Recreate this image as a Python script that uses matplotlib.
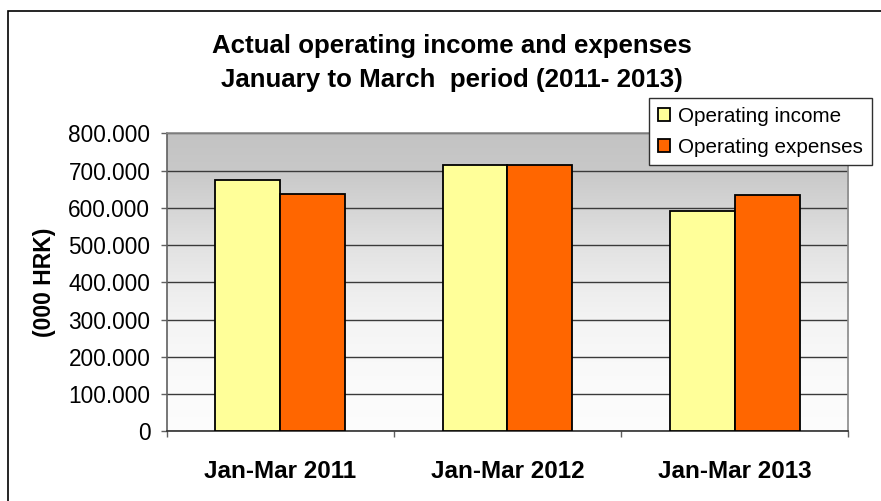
import numpy as np
import matplotlib
matplotlib.use("Agg")
import matplotlib.pyplot as plt
from matplotlib.patches import Rectangle
from matplotlib.ticker import FuncFormatter, FixedLocator

plt.rcParams['font.family'] = ['Liberation Sans', 'DejaVu Sans']

categories = ["Jan-Mar 2011", "Jan-Mar 2012", "Jan-Mar 2013"]
operating_income = [675000, 715000, 592000]
operating_expenses = [636000, 715000, 635000]
series_names = ["Operating income", "Operating expenses"]
title_lines = ["Actual operating income and expenses",
               "January to March  period (2011- 2013)"]
y_label = "(000 HRK)"
y_ticks = [0, 100000, 200000, 300000, 400000, 500000, 600000, 700000, 800000]

W, H = 881, 501
fig = plt.figure(figsize=(W / 100, H / 100), dpi=100)
fig.patch.set_facecolor("white")

# chart-area border (extends beyond right and bottom edge)
fig.patches.append(Rectangle((7.5 / W, -0.2), 1.2, 1.2 - 11 / H,
                             transform=fig.transFigure, fill=False,
                             edgecolor="black", linewidth=1.2))

ax = fig.add_axes([166.7 / W, 1 - 431.3 / H, (848.3 - 166.7) / W, (431.3 - 133.3) / H])

# gradient background
stops_f = [0.0, 0.125, 0.25, 0.375, 0.5, 0.625, 0.75, 0.875, 1.0]
stops_g = [0.99, 0.985, 0.975, 0.955, 0.925, 0.885, 0.835, 0.785, 0.765]
yy = np.linspace(0, 1, 300)
g = np.interp(yy, stops_f, stops_g)
img = np.stack([g, g, g], axis=-1)[:, None, :].repeat(2, axis=1)
ax.imshow(img, extent=[-0.5, 2.5, 0, 800000], origin="lower", aspect="auto",
          zorder=0, interpolation="bilinear")

x = np.arange(len(categories))
bw = 0.286
ax.bar(x - bw / 2, operating_income, bw, color="#FFFF99", edgecolor="black",
       linewidth=1.3, label=series_names[0], zorder=3)
ax.bar(x + bw / 2, operating_expenses, bw, color="#FF6600", edgecolor="black",
       linewidth=1.3, label=series_names[1], zorder=3)

ax.set_xlim(-0.5, 2.5)
ax.set_ylim(0, 800000)

ax.yaxis.set_major_locator(FixedLocator(y_ticks))
ax.yaxis.set_major_formatter(FuncFormatter(lambda v, p: f"{int(v):,}".replace(",", ".")))
ax.yaxis.grid(True, color="#3a3a3a", linewidth=1.0, zorder=1)
ax.set_axisbelow(True)

ax.xaxis.set_major_locator(FixedLocator([-0.5, 0.5, 1.5, 2.5]))
ax.xaxis.set_major_formatter(FuncFormatter(lambda v, p: ""))
ax.xaxis.set_minor_locator(FixedLocator(list(x)))
ax.set_xticklabels(categories, minor=True)
ax.tick_params(axis="x", which="minor", length=0, pad=21, labelsize=17.5)
for lab in ax.get_xticklabels(minor=True):
    lab.set_fontweight("bold")
ax.tick_params(axis="x", which="major", length=4.5, width=1, color="#606060", direction="out")
ax.tick_params(axis="y", which="major", length=4.3, width=1, color="#606060",
               pad=7.5, labelsize=16.3)

for s in ["top", "right"]:
    ax.spines[s].set_color("#8a8a8a")
    ax.spines[s].set_linewidth(1.2)
ax.spines["left"].set_color("#606060")
ax.spines["left"].set_linewidth(1.2)
ax.spines["bottom"].set_color("#303030")
ax.spines["bottom"].set_linewidth(1.2)

ax.set_ylabel(y_label, fontsize=16.5, fontweight="bold")
ax.yaxis.set_label_coords((56 - 166.7) / (848.3 - 166.7), 0.5)

fig.text(451.5 / W, 1 - 52.7 / H, title_lines[0], ha="center", va="baseline",
         fontsize=18.6, fontweight="bold")
fig.text(451.5 / W, 1 - 87.3 / H, title_lines[1], ha="center", va="baseline",
         fontsize=18.6, fontweight="bold")

leg = ax.legend(loc="upper left", bbox_to_anchor=(649 / W, 1 - 98 / H),
                bbox_transform=fig.transFigure, borderaxespad=0,
                fontsize=14.9, frameon=True, fancybox=False, framealpha=1,
                edgecolor="#303030", handlelength=0.6, handleheight=0.6,
                handletextpad=0.38, labelspacing=0.58, borderpad=0.42)
leg.get_frame().set_linewidth(1.0)
leg.set_zorder(10)

fig.savefig("out.png", dpi=100, facecolor="white")
